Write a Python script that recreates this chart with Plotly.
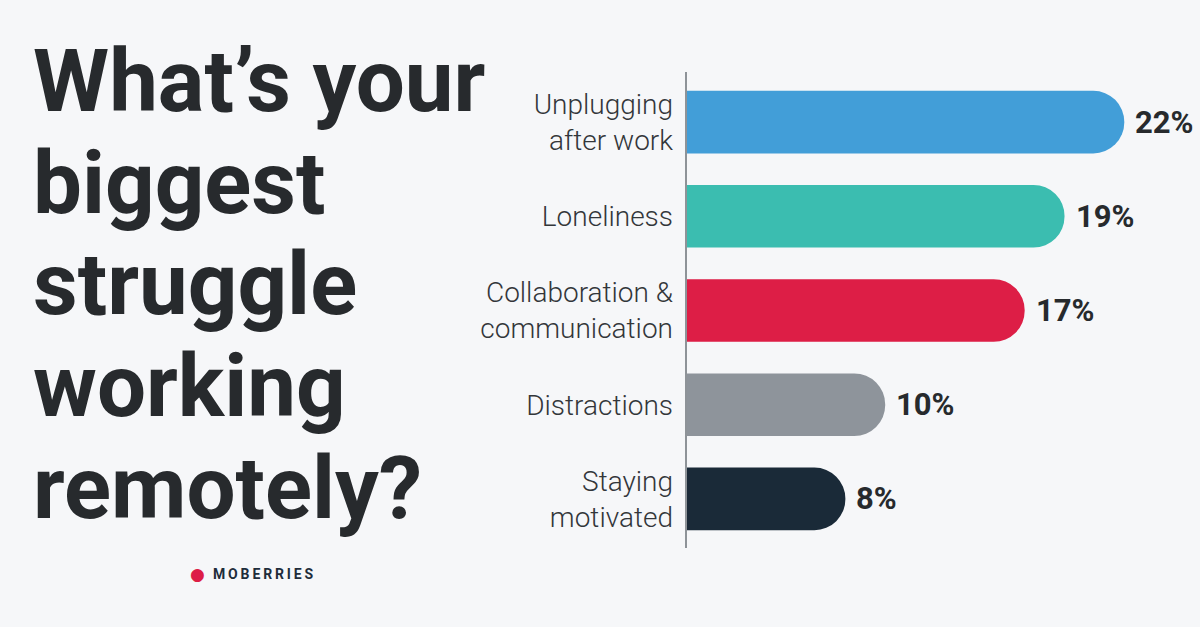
import plotly.graph_objects as go

categories = ["Unplugging<br>after work", "Loneliness", "Collaboration &<br>communication", "Distractions", "Staying<br>motivated"]
values = [22, 19, 17, 10, 8]
value_labels = ["22%", "19%", "17%", "10%", "8%"]
colors = ["#429ed8", "#3bbdb0", "#dd1e46", "#8e949b", "#1a2a38"]
title_lines = ["What’s your", "biggest", "struggle", "working", "remotely?"]

BG = "#f6f7f9"
W, H = 1200, 627
ax_left = 686
ax_top, ax_bot = 75, 546
line_top, line_bot = 72, 548
ph = ax_bot - ax_top
pw = W - ax_left
hidden = 3  # units of bar hidden behind axis so left side stays flat


def px_x(x):
    return (x - ax_left) / pw


def px_y(y):
    return 1 - (y - ax_top) / ph


fig = go.Figure()
fig.add_trace(go.Bar(
    y=categories,
    x=[v + hidden for v in values],
    base=[-hidden] * len(values),
    orientation="h",
    marker=dict(color=colors, cornerradius=32, line=dict(width=0)),
    width=0.665,
    hoverinfo="skip",
))

for cat, v, lab in zip(categories, values, value_labels):
    fig.add_annotation(x=v, y=cat, text=lab, showarrow=False, xanchor="left", xshift=9,
                       font=dict(family="Roboto", size=31, color="#272a2d", weight="bold"))

for i, line in enumerate(title_lines):
    fig.add_annotation(xref="paper", yref="paper", x=px_x(31),
                       y=px_y(28 + 101.7 * i), yanchor="top", xanchor="left",
                       text=line, showarrow=False,
                       font=dict(family="Roboto", size=87, color="#272a2d", weight="bold"))

# axis line
fig.add_shape(type="line", xref="paper", yref="paper", x0=0, x1=0,
              y0=px_y(line_bot), y1=px_y(line_top),
              line=dict(color="#8e9398", width=2), layer="above")

# logo
fig.add_annotation(xref="paper", yref="paper", x=px_x(211), y=px_y(574),
                   xanchor="left", yanchor="middle",
                   text="\u2009".join("MOBERRIES"), showarrow=False,
                   font=dict(family="Roboto", size=14, color="#1e2d3b", weight="bold"))
fig.add_annotation(xref="paper", yref="paper", x=px_x(197), y=px_y(574),
                   xanchor="center", yanchor="middle",
                   text="●", showarrow=False,
                   font=dict(family="DejaVu Sans", size=17, color="#dd1e46"))

fig.update_layout(
    width=W, height=H,
    paper_bgcolor=BG, plot_bgcolor=BG,
    margin=dict(l=ax_left, r=0, t=ax_top, b=H - ax_bot, pad=0),
    showlegend=False,
    bargap=0.3,
    xaxis=dict(range=[0, 25.8], visible=False, fixedrange=True),
    yaxis=dict(autorange="reversed", showline=False,
               showgrid=False, zeroline=False, ticks="", ticklabelstandoff=12, fixedrange=True,
               tickfont=dict(family="Roboto", size=28, color="#33363a", weight=300)),
)

fig.write_html("out.html", config={"displayModeBar": False},
               post_script="document.body.style.margin='0';document.body.style.background='#f6f7f9';")
